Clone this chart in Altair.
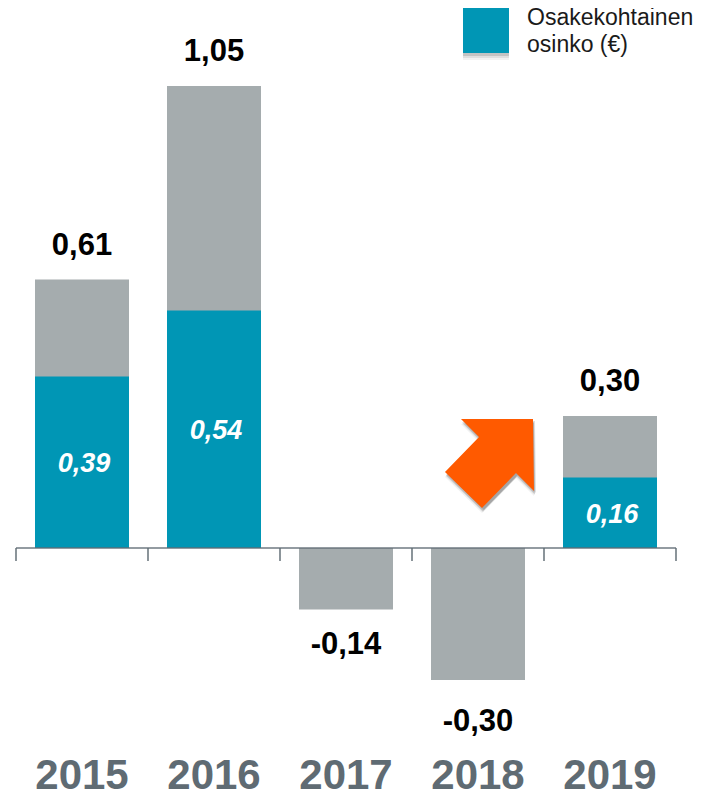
import altair as alt
import pandas as pd

years = [2015, 2016, 2017, 2018, 2019]
eps = [0.61, 1.05, -0.14, -0.30, 0.30]
dividend = [0.39, 0.54, None, None, 0.16]
eps_labels = ["0,61", "1,05", "-0,14", "-0,30", "0,30"]
div_labels = ["0,39", "0,54", "", "", "0,16"]
label_dy = [-25, -25, 44, 51, -25]
tick_edges = [2014.5, 2015.5, 2016.5, 2017.5, 2018.5, 2019.5]
legend_lines = ["Osakekohtainen", "osinko (€)"]

TEAL = "#0096b5"
GRAY = "#a5acae"
SLATE = "#5f6b73"
ORANGE = "#ff5a00"
FONT = "Liberation Sans"

df = pd.DataFrame({"year": years, "eps": eps, "div": dividend,
                   "eps_label": eps_labels, "div_label": div_labels,
                   "dy": label_dy, "zero": 0.0, "bottom": -0.5477})
df_div = df[df["div"].notna()].copy()
df_div["mid"] = df_div["div"] / 2

x_scale = alt.Scale(domain=[2014.43939, 2019.65152], nice=False, zero=False, padding=0)
y_scale = alt.Scale(domain=[-0.55227, 1.22727], nice=False, zero=False, padding=0)
X = lambda f: alt.X(f, type="quantitative", scale=x_scale, axis=None)
Y = lambda f: alt.Y(f, type="quantitative", scale=y_scale, axis=None)

base = alt.Chart(df)
layers = []
layers.append(base.mark_bar(width=94, color=GRAY).encode(x=X("year"), y=Y("zero"), y2="eps"))
layers.append(alt.Chart(df_div).mark_bar(width=94, color=TEAL).encode(x=X("year"), y=Y("zero"), y2="div"))

axis_df = pd.DataFrame({"x": [tick_edges[0]], "x2": [tick_edges[-1]], "y": [0.0]})
layers.append(alt.Chart(axis_df).mark_rule(color=SLATE, strokeWidth=1.6, opacity=0.9).encode(x=X("x"), x2="x2", y=Y("y")))
tick_df = pd.DataFrame({"x": tick_edges, "y": [0.0] * 6, "y2": [-0.0295] * 6})
layers.append(alt.Chart(tick_df).mark_rule(color=SLATE, strokeWidth=1.6, opacity=0.9).encode(x=X("x"), y=Y("y"), y2="y2"))

for _, r in df.iterrows():
    row = pd.DataFrame([r])
    layers.append(alt.Chart(row).mark_text(font=FONT, fontSize=31, fontWeight="bold", color="#000000",
                                           baseline="alphabetic", align="center", dy=int(r["dy"]))
                  .encode(x=X("year"), y=Y("eps"), text="eps_label:N"))

layers.append(alt.Chart(df_div).mark_text(font=FONT, fontSize=27, fontWeight="bold", fontStyle="italic",
                                          color="#ffffff", baseline="middle", align="center", dx=2, dy=2)
              .encode(x=X("year"), y=Y("mid"), text="div_label:N"))
layers.append(base.mark_text(font=FONT, fontSize=42, fontWeight="bold", color=SLATE,
                             baseline="alphabetic", align="center")
              .encode(x=X("year"), y=Y("bottom"), text="year:N"))

# arrow annotation, drawn as a custom symbol
ARROW = "M43,-44L-29,-44L-11,-26L-45,9L-8,45L26,10L44,28Z"
arrow_df = pd.DataFrame({"x": [2018.0909], "y": [0.1932]})
for dx, dy, op in [(0, 5, 0.06), (1, 4, 0.10), (1, 3, 0.12), (2, 2, 0.12)]:
    layers.append(alt.Chart(arrow_df).mark_point(shape=ARROW, size=4, filled=True, color="#000000", opacity=op,
                                                 xOffset=dx, yOffset=dy, strokeWidth=0)
                  .encode(x=X("x"), y=Y("y")))
layers.append(alt.Chart(arrow_df).mark_point(shape=ARROW, size=4, filled=True, color=ORANGE, opacity=1, strokeWidth=0)
              .encode(x=X("x"), y=Y("y")))

# legend swatch and text
swatch_df = pd.DataFrame({"x": [2018.0606], "y": [1.1773]})
for dy, op in [(7, 0.05), (5, 0.08), (3, 0.12)]:
    layers.append(alt.Chart(swatch_df).mark_point(shape="square", size=2116, filled=True, color="#000000", opacity=op,
                                                  yOffset=dy, strokeWidth=0)
                  .encode(x=X("x"), y=Y("y")))
layers.append(alt.Chart(swatch_df).mark_point(shape="square", size=2116, filled=True, color=TEAL, opacity=1, strokeWidth=0)
              .encode(x=X("x"), y=Y("y")))
legend_df = pd.DataFrame({"x": [2018.3712] * 2, "y": [1.1886, 1.1273], "t": legend_lines})
layers.append(alt.Chart(legend_df).mark_text(font=FONT, fontSize=23, color="#1a1a1a", align="left", baseline="alphabetic")
              .encode(x=X("x"), y=Y("y"), text="t:N"))

chart = alt.layer(*layers).properties(
    width=688, height=783,
    padding={"left": 0, "right": 0, "top": 0, "bottom": 0},
    autosize=alt.AutoSizeParams(type="none"),
    background="#ffffff",
).configure_view(stroke=None)

chart.save("out.html", embed_options={"renderer": "svg", "actions": False})
